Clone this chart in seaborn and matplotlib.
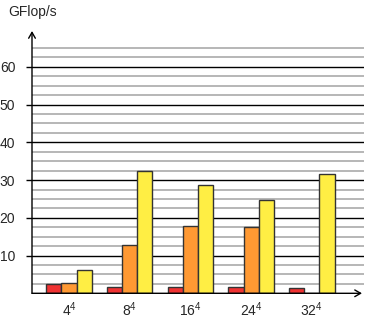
import matplotlib
matplotlib.use("Agg")
import matplotlib.pyplot as plt
import seaborn as sns
import pandas as pd
import numpy as np

# Problem sizes (lattice volumes) and measured throughput per variant
sizes = [r"$\mathregular{4^4}$", r"$\mathregular{8^4}$", r"$\mathregular{16^4}$",
         r"$\mathregular{24^4}$", r"$\mathregular{32^4}$"]
variants = ["A", "B", "C"]
gflops_a = [2.4, 1.8, 1.6, 1.6, 1.4]
gflops_b = [2.7, 12.7, 17.8, 17.6, 0.0]
gflops_c = [6.1, 32.3, 28.8, 24.7, 31.7]
y_ticks = [10, 20, 30, 40, 50, 60]
y_label = "GFlop/s"

bar_colors = ["#f03333", "#ff9933", "#ffee44"]

df = pd.DataFrame({
    "size": sizes * 3,
    "variant": [v for v in variants for _ in sizes],
    "gflops": gflops_a + gflops_b + gflops_c,
})

sns.set_theme(style="white")
plt.rcParams["font.family"] = ["Liberation Sans", "DejaVu Sans"]
plt.rcParams["mathtext.fontset"] = "custom"
plt.rcParams["mathtext.rm"] = "Liberation Sans"
plt.rcParams["mathtext.it"] = "Liberation Sans:italic"
plt.rcParams["mathtext.bf"] = "Liberation Sans:bold"

fig = plt.figure(figsize=(3.65, 3.2), dpi=100)
ax = fig.add_axes([32 / 365, 26.7 / 320, 332 / 365, 262.3 / 320])

sns.barplot(data=df, x="size", y="gflops", hue="variant", order=sizes,
            hue_order=variants, palette=bar_colors, width=0.75,
            edgecolor="#333333", linewidth=1.0, saturation=1, legend=False,
            ax=ax)

ax.set_xlim(-0.61, 4.86)
ax.set_ylim(0, 69.5)

# Minor grid every 2.5, major grid at labelled ticks
for v in np.arange(2.5, 67.5, 2.5):
    if v % 10 == 0:
        ax.axhline(v, color="black", lw=1.0, zorder=0.5)
    else:
        ax.axhline(v, color="#aaaaaa", lw=1.2, zorder=0.4)
ax.set_axisbelow(True)

ax.set_yticks(y_ticks)
ax.set_yticklabels([str(t) for t in y_ticks])
ax.tick_params(axis="y", length=4, width=1, color="black", pad=8,
               labelsize=10, left=True)
ax.tick_params(axis="x", length=0, pad=5, labelsize=10)
ax.set_xlabel("")
ax.set_ylabel("")

for s in ax.spines.values():
    s.set_visible(False)

# Axis lines with open arrowheads
ax.annotate("", xy=(0, 1.0), xytext=(0, 0), xycoords="axes fraction",
            arrowprops=dict(arrowstyle="->,head_length=0.35,head_width=0.2",
                            lw=1.0, color="black", shrinkA=0, shrinkB=0),
            annotation_clip=False)
ax.annotate("", xy=(0.994, 0), xytext=(0, 0), xycoords="axes fraction",
            arrowprops=dict(arrowstyle="->,head_length=0.35,head_width=0.2",
                            lw=1.0, color="black", shrinkA=0, shrinkB=0),
            annotation_clip=False)

fig.text(8 / 365, 1 - 16 / 320, y_label, fontsize=10, ha="left", va="baseline")

fig.savefig("out.png", dpi=100)
